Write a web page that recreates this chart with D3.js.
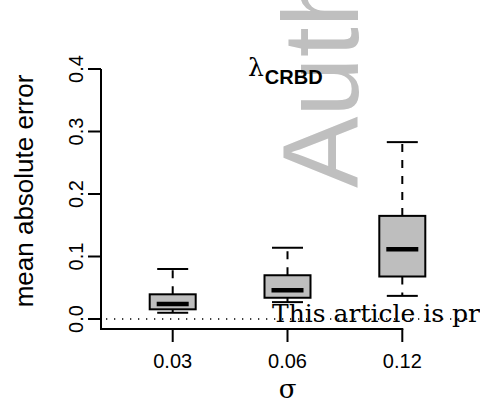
<!DOCTYPE html>
<html>
<head>
<meta charset="utf-8">
<script src="https://cdn.jsdelivr.net/npm/d3@7"></script>
<style>
  body { margin: 0; background: #fff; }
  svg { display: block; }
</style>
</head>
<body>
<div id="chart"></div>
<script>
// values
const sigmas = ["0.03", "0.06", "0.12"];
const whiskerLow = [0.010, 0.027, 0.037];
const q1 = [0.0155, 0.034, 0.068];
const medians = [0.024, 0.046, 0.1115];
const q3 = [0.0395, 0.070, 0.165];
const whiskerHigh = [0.080, 0.114, 0.283];
const yTicks = [0.0, 0.1, 0.2, 0.3, 0.4];

const width = 480, height = 404;

const svg = d3.select("#chart").append("svg")
    .attr("width", width)
    .attr("height", height);

// scales
let x = d3.scalePoint().domain(sigmas).range([172.7, 402.3]);
let y = d3.scaleLinear().domain([0, 0.4]).range([319, 69]);

let boxes = sigmas.map((s, i) => ({
    s: s, lo: whiskerLow[i], q1: q1[i], med: medians[i], q3: q3[i], hi: whiskerHigh[i]
}));

// watermark behind
svg.append("text")
    .attr("transform", "translate(358,188) rotate(-90)")
    .attr("font-family", "Liberation Sans, Arial, sans-serif")
    .attr("font-size", 107)
    .attr("fill", "#bfbfbf")
    .text("Auth");

// zero reference line
svg.append("line")
    .attr("x1", 106).attr("x2", 474)
    .attr("y1", y(0)).attr("y2", y(0))
    .attr("stroke", "#000")
    .attr("stroke-width", 1.3)
    .attr("stroke-dasharray", "1.3,6.7");

let boxW = 46, capW = 31, medW = 32;

let g = svg.append("g").selectAll("g").data(boxes).enter().append("g");

// whiskers
g.append("line")
    .attr("x1", d => x(d.s)).attr("x2", d => x(d.s))
    .attr("y1", d => y(d.q3)).attr("y2", d => y(d.hi))
    .attr("stroke", "#000").attr("stroke-width", 2)
    .attr("stroke-dasharray", "8,8");
g.append("line")
    .attr("x1", d => x(d.s)).attr("x2", d => x(d.s))
    .attr("y1", d => y(d.q1)).attr("y2", d => y(d.lo))
    .attr("stroke", "#000").attr("stroke-width", 2)
    .attr("stroke-dasharray", "8,8");

// caps
g.append("line")
    .attr("x1", d => x(d.s) - capW / 2).attr("x2", d => x(d.s) + capW / 2)
    .attr("y1", d => y(d.hi)).attr("y2", d => y(d.hi))
    .attr("stroke", "#000").attr("stroke-width", 2);
g.append("line")
    .attr("x1", d => x(d.s) - capW / 2).attr("x2", d => x(d.s) + capW / 2)
    .attr("y1", d => y(d.lo)).attr("y2", d => y(d.lo))
    .attr("stroke", "#000").attr("stroke-width", 2);

// box
g.append("rect")
    .attr("x", d => x(d.s) - boxW / 2)
    .attr("y", d => y(d.q3))
    .attr("width", boxW)
    .attr("height", d => y(d.q1) - y(d.q3))
    .attr("fill", "#bebebe")
    .attr("stroke", "#000").attr("stroke-width", 2);

// median
g.append("line")
    .attr("x1", d => x(d.s) - medW / 2).attr("x2", d => x(d.s) + medW / 2)
    .attr("y1", d => y(d.med)).attr("y2", d => y(d.med))
    .attr("stroke", "#000").attr("stroke-width", 4.5);

// y axis
svg.append("line")
    .attr("x1", 101).attr("x2", 101)
    .attr("y1", y(0.4)).attr("y2", 329)
    .attr("stroke", "#000").attr("stroke-width", 2);
svg.selectAll(".ytick").data(yTicks).enter().append("line")
    .attr("class", "ytick")
    .attr("x1", 88).attr("x2", 101)
    .attr("y1", d => y(d)).attr("y2", d => y(d))
    .attr("stroke", "#000").attr("stroke-width", 2);
svg.selectAll(".ylab").data(yTicks).enter().append("text")
    .attr("class", "ylab")
    .attr("transform", d => `translate(83,${y(d)}) rotate(-90)`)
    .attr("text-anchor", "middle")
    .attr("font-family", "Liberation Sans, Arial, sans-serif")
    .attr("font-size", 20)
    .text(d => d.toFixed(1));

// x axis
svg.append("line")
    .attr("x1", 100).attr("x2", x("0.12") + 1)
    .attr("y1", 329).attr("y2", 329)
    .attr("stroke", "#000").attr("stroke-width", 2);
svg.selectAll(".xtick").data(sigmas).enter().append("line")
    .attr("class", "xtick")
    .attr("x1", d => x(d)).attr("x2", d => x(d))
    .attr("y1", 329).attr("y2", 342)
    .attr("stroke", "#000").attr("stroke-width", 2);
svg.selectAll(".xlab").data(sigmas).enter().append("text")
    .attr("class", "xlab")
    .attr("x", d => x(d)).attr("y", 368)
    .attr("text-anchor", "middle")
    .attr("font-family", "Liberation Sans, Arial, sans-serif")
    .attr("font-size", 20)
    .text(d => d);

// axis titles
svg.append("text")
    .attr("transform", "translate(33,191) rotate(-90)")
    .attr("text-anchor", "middle")
    .attr("font-family", "Liberation Sans, Arial, sans-serif")
    .attr("font-size", 26)
    .text("mean absolute error");
svg.append("text")
    .attr("x", 287.5).attr("y", 398)
    .attr("text-anchor", "middle")
    .attr("font-family", "DejaVu Serif, serif")
    .attr("font-size", 26)
    .text("σ");

// title
let title = svg.append("text")
    .attr("x", 248).attr("y", 76);
title.append("tspan")
    .attr("font-family", "DejaVu Serif, serif")
    .attr("font-size", 25)
    .text("λ");
title.append("tspan")
    .attr("dy", 8)
    .attr("dx", 1)
    .attr("font-family", "Liberation Sans, Arial, sans-serif")
    .attr("font-weight", "bold")
    .attr("font-size", 20)
    .text("CRBD");

// overlay text
svg.append("text")
    .attr("x", 272).attr("y", 322)
    .attr("font-family", "DejaVu Serif, serif")
    .attr("font-size", 25)
    .attr("fill", "#000")
    .text("This article is pr");
</script>
</body>
</html>
